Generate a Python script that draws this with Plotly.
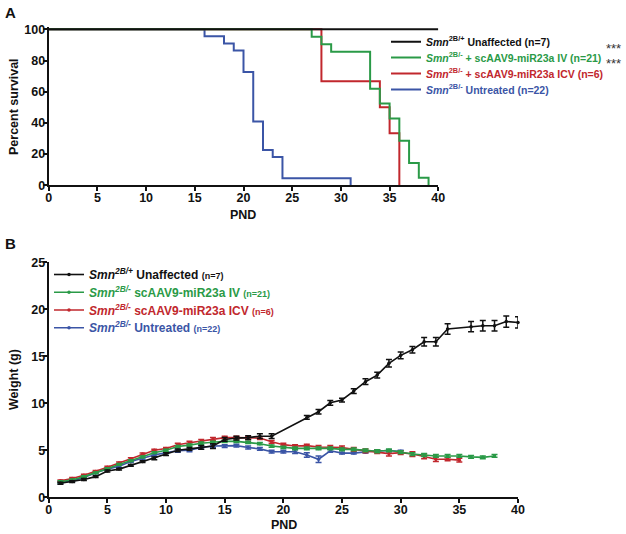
import plotly.graph_objects as go

# ---------------- Data ----------------
# Panel A: Kaplan-Meier survival (PND, percent survival)
km_unaff_t = [0, 40]
km_unaff_s = [100, 100]
km_iv_t = [0, 27, 28, 29, 33, 34, 35, 36, 37, 38, 39]
km_iv_s = [100, 95.2, 90.5, 85.7, 61.9, 52.4, 42.9, 28.6, 14.3, 4.8, 0]
km_icv_t = [0, 28, 34, 35, 36]
km_icv_s = [100, 66.7, 50, 33.3, 0]
km_unt_t = [0, 16, 18, 19, 20, 21, 22, 23, 24, 31]
km_unt_s = [100, 95.5, 90.9, 86.4, 72.7, 40.9, 22.7, 18.2, 4.5, 0]

# Panel B: weight (g) by PND, mean and SEM
unaff_days = list(range(1, 20)) + list(range(22, 35)) + list(range(36, 41))
unaff_w = [1.5, 1.67, 1.9, 2.2, 2.8, 3.0, 3.4, 3.8, 4.15, 4.6, 5.0, 5.15, 5.3, 5.45, 6.15, 6.3, 6.35, 6.5, 6.5,
           8.5, 9.1, 10.05, 10.35, 11.3, 12.3, 13.0, 14.25, 15.1, 15.7, 16.55, 16.55, 17.9,
           18.15, 18.25, 18.25, 18.7, 18.6]
unaff_e = [0.1, 0.1, 0.1, 0.1, 0.1, 0.1, 0.1, 0.1, 0.15, 0.15, 0.15, 0.15, 0.2, 0.25, 0.2, 0.2, 0.2, 0.25, 0.25,
           0.2, 0.25, 0.25, 0.2, 0.25, 0.3, 0.3, 0.4, 0.35, 0.35, 0.45, 0.45, 0.55,
           0.55, 0.55, 0.55, 0.6, 0.6]

iv_days = list(range(1, 39))
iv_w = [1.65, 1.85, 2.2, 2.6, 3.05, 3.5, 3.9, 4.3, 4.75, 5.0, 5.4, 5.55, 5.75, 5.85, 5.95, 5.95, 5.85, 5.7, 5.45,
        5.3, 5.2, 5.2, 5.2, 5.2, 5.1, 5.1, 5.0, 4.9, 5.0, 4.8, 4.6, 4.5, 4.4, 4.4, 4.4, 4.3, 4.25, 4.4]
iv_e = [0.1] * 10 + [0.12] * 10 + [0.15] * 18

icv_days = list(range(1, 36))
icv_w = [1.75, 2.0, 2.35, 2.75, 3.2, 3.65, 4.1, 4.6, 5.0, 5.2, 5.6, 5.8, 6.0, 6.2, 6.35, 6.35, 6.3, 6.3, 5.9,
         5.6, 5.45, 5.5, 5.35, 5.35, 5.3, 5.1, 4.95, 4.85, 4.65, 4.75, 4.6, 4.35, 4.05, 4.05, 3.95]
icv_e = [0.1] * 10 + [0.15] * 15 + [0.2, 0.2, 0.2, 0.25, 0.2, 0.25, 0.25, 0.25, 0.15, 0.2]

unt_days = list(range(1, 31))
unt_w = [1.55, 1.75, 2.1, 2.6, 3.0, 3.3, 3.8, 4.15, 4.5, 4.75, 4.95, 5.0, 5.3, 5.45, 5.45, 5.5, 5.3, 5.15, 4.85,
         4.85, 4.85, 4.5, 4.05, 4.95, 4.7, 4.7, 4.8, 4.95, 4.95, 4.9]
unt_e = [0.1] * 10 + [0.15] * 10 + [0.2, 0.25, 0.35, 0.15, 0.1, 0.1, 0.1, 0.1, 0.1, 0.1]

x_ticks = [0, 5, 10, 15, 20, 25, 30, 35, 40]
ya_ticks = [0, 20, 40, 60, 80, 100]
yb_ticks = [0, 5, 10, 15, 20, 25]

# ---------------- Style ----------------
FONT = "Liberation Sans, Arial, sans-serif"
BLACK = "#111111"
GREEN = "#2a9a47"
RED = "#c1272d"
BLUE = "#3b55a6"
W, H = 626, 534


def px_x(p):
    return p / W


def px_y(p):
    return 1 - p / H


fig = go.Figure()

# Panel A traces
for t, s, c, name, leg in [
    (km_unt_t, km_unt_s, BLUE, "<i>Smn</i><sup>2B/-</sup> Untreated (n=22)", "legend4"),
    (km_icv_t, km_icv_s, RED, "<i>Smn</i><sup>2B/-</sup> + scAAV9-miR23a ICV (n=6)", "legend3"),
    (km_iv_t, km_iv_s, GREEN, "<i>Smn</i><sup>2B/-</sup> + scAAV9-miR23a IV (n=21)", "legend2"),
    (km_unaff_t, km_unaff_s, BLACK, "<i>Smn</i><sup>2B/+</sup> Unaffected (n=7)", "legend"),
]:
    fig.add_trace(go.Scatter(
        x=t, y=s, mode="lines", line=dict(color=c, width=2, shape="hv"),
        name=f"<span style='color:{c}'>{name}</span>", legend=leg,
        xaxis="x", yaxis="y", hoverinfo="skip"))

# Panel B traces
for d, w, e, c, name, leg in [
    (unt_days, unt_w, unt_e, BLUE,
     "<i>Smn<sup>2B/-</sup></i> Untreated <span style='font-size:9px'>(n=22)</span>", "legend8"),
    (icv_days, icv_w, icv_e, RED,
     "<i>Smn<sup>2B/-</sup></i> scAAV9-miR23a ICV <span style='font-size:9px'>(n=6)</span>", "legend7"),
    (iv_days, iv_w, iv_e, GREEN,
     "<i>Smn<sup>2B/-</sup></i> scAAV9-miR23a IV <span style='font-size:9px'>(n=21)</span>", "legend6"),
    (unaff_days, unaff_w, unaff_e, BLACK,
     "<i>Smn<sup>2B/+</sup></i> Unaffected <span style='font-size:9px'>(n=7)</span>", "legend5"),
]:
    fig.add_trace(go.Scatter(
        x=d, y=w, mode="lines+markers",
        line=dict(color=c, width=1.6),
        marker=dict(color=c, size=3.5),
        error_y=dict(type="data", array=e, visible=True, color=c, thickness=1.5, width=3),
        name=f"<span style='color:{c}'>{name}</span>", legend=leg,
        xaxis="x2", yaxis="y2", cliponaxis=False, hoverinfo="skip"))

axis_common = dict(
    showgrid=False, zeroline=False, showline=True, linecolor=BLACK, linewidth=2,
    ticks="outside", ticklen=4, tickwidth=1.5, tickcolor=BLACK,
    tickfont=dict(family=FONT, size=12.5, color=BLACK, weight="bold"),
    automargin=False, fixedrange=True,
)

legA_font = dict(family=FONT, size=10.5, color=BLACK, weight="bold")
legB_font = dict(family=FONT, size=12, color=BLACK, weight="bold")
leg_common = dict(bgcolor="rgba(0,0,0,0)", borderwidth=0, xanchor="left", yanchor="middle",
                  itemclick=False, itemdoubleclick=False, tracegroupgap=0)

layout_legends = {}
legA_rows = [41.7, 57.5, 73.5, 89.5]
for i, yy in enumerate(legA_rows):
    key = "legend" if i == 0 else f"legend{i + 1}"
    layout_legends[key] = dict(x=px_x(386), y=px_y(yy), font=legA_font, **leg_common)
legB_rows = [274.5, 292.3, 310.0, 327.8]
for i, yy in enumerate(legB_rows):
    layout_legends[f"legend{i + 5}"] = dict(x=px_x(49), y=px_y(yy), font=legB_font, **leg_common)

fig.update_layout(
    width=W, height=H,
    margin=dict(l=0, r=0, t=0, b=0),
    paper_bgcolor="white", plot_bgcolor="white",
    font=dict(family=FONT, color=BLACK),
    showlegend=True,
    xaxis=dict(domain=[px_x(48.7), px_x(438.3)], range=[0, 40], tickvals=x_ticks,
               anchor="y", ticklabelstandoff=-4, **axis_common),
    yaxis=dict(domain=[px_y(185.3), px_y(27.0)], range=[0, 101.5], tickvals=ya_ticks,
               anchor="x", ticklabelstandoff=-5, **axis_common),
    xaxis2=dict(domain=[px_x(48.7), px_x(518.0)], range=[0, 40], tickvals=x_ticks,
                anchor="y2", ticklabelstandoff=-4, **axis_common),
    yaxis2=dict(domain=[px_y(497.3), px_y(262.3)], range=[0, 25], tickvals=yb_ticks,
                anchor="x2", ticklabelstandoff=-5, **axis_common),
    **layout_legends,
)

ann_font = dict(family=FONT, size=12.5, color=BLACK, weight="bold")
annotations = [
    dict(text="A", x=px_x(3), y=px_y(12), xanchor="left", yanchor="middle",
         font=dict(family=FONT, size=15, color=BLACK, weight="bold")),
    dict(text="B", x=px_x(3), y=px_y(243), xanchor="left", yanchor="middle",
         font=dict(family=FONT, size=15, color=BLACK, weight="bold")),
    dict(text="Percent survival", x=px_x(14), y=px_y(107), textangle=-90,
         xanchor="center", yanchor="middle", font=ann_font),
    dict(text="PND", x=px_x(243.5), y=px_y(215), xanchor="center", yanchor="middle", font=ann_font),
    dict(text="Weight (g)", x=px_x(14), y=px_y(380), textangle=-90,
         xanchor="center", yanchor="middle", font=ann_font),
    dict(text="PND", x=px_x(283.5), y=px_y(525), xanchor="center", yanchor="middle", font=ann_font),
    dict(text="***", x=px_x(613), y=px_y(48), xanchor="center", yanchor="middle",
         font=dict(family=FONT, size=13, color="#333333")),
    dict(text="***", x=px_x(613), y=px_y(64), xanchor="center", yanchor="middle",
         font=dict(family=FONT, size=13, color="#333333")),
]
for a in annotations:
    a.update(xref="paper", yref="paper", showarrow=False)
fig.update_layout(annotations=annotations)

fig.write_html("out.html", config={"displayModeBar": False},
               post_script="document.body.style.margin='0';")
